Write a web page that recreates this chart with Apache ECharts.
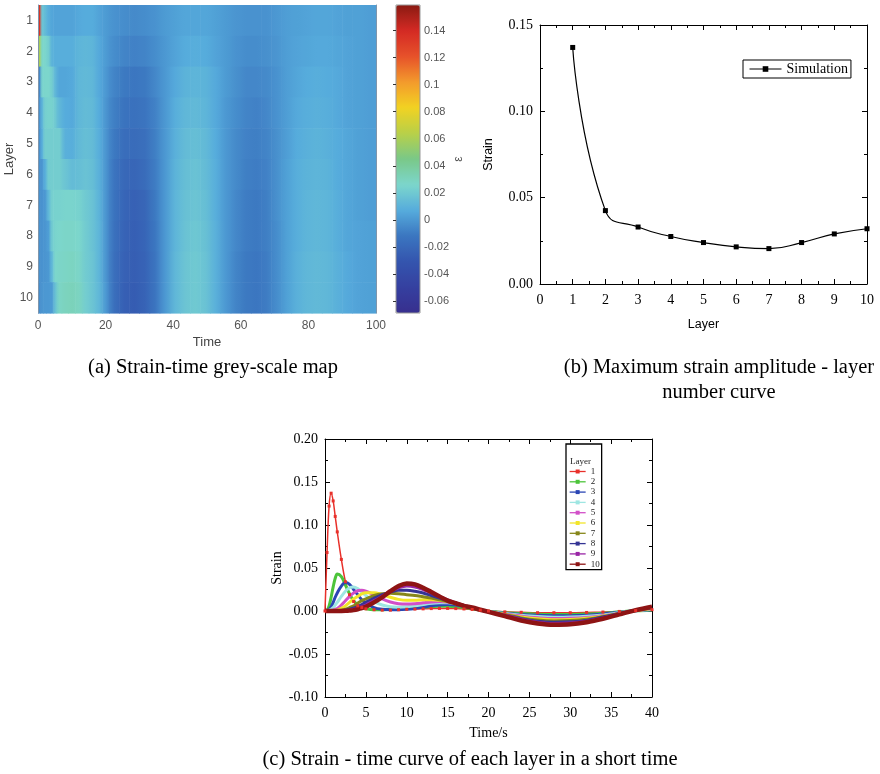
<!DOCTYPE html>
<html><head><meta charset="utf-8">
<script src="https://cdn.jsdelivr.net/npm/echarts@6/dist/echarts.min.js"></script>
<style>html,body{margin:0;padding:0;background:#fff}#c{width:880px;height:774px}</style>
</head><body><div id="c"></div>
<script>
// ---------- DATA ----------
const layerNames = ['1','2','3','4','5','6','7','8','9','10'];

// (a) heat map: column edges in time, and one value per column for each layer
const heatEdges = [0,0.7,1.5,2.5,3.5,4.5,5.5,7,9,11,13,15,17,19,21,24,27,30,33,36,39,42,45,48,51,54,57,60,63,66,69,72,75,78,81,84,87,90,93,96,100];
const heatL1 = [0.135,0.018,0.014,0.008,0.005, 0.004,0.004,0.004,0.004,0.006, 0.007,0.007,0.004,0.001,-0.002, -0.004,-0.005,-0.004,-0.002,0.001, 0.003,0.005,0.005,0.005,0.003, 0.001,-0.001,-0.002,-0.002,-0.002, 0.000,0.002,0.003,0.004,0.005, 0.005,0.004,0.003,0.003,0.002];
const heatL2 = [0.060,0.027,0.026,0.022,0.010, 0.008,0.008,0.008,0.008,0.011, 0.012,0.011,0.006,0.001,-0.004, -0.007,-0.008,-0.007,-0.004,0.000, 0.004,0.007,0.008,0.007,0.004, 0.001,-0.002,-0.004,-0.004,-0.003, -0.001,0.002,0.004,0.005,0.006, 0.006,0.005,0.004,0.003,0.002];
const heatL3 = [-0.006,0.024,0.026,0.026,0.022, 0.012,0.005,0.005,0.006,0.012, 0.013,0.012,0.006,0.000,-0.007, -0.011,-0.012,-0.011,-0.006,0.000, 0.006,0.010,0.011,0.010,0.006, 0.001,-0.003,-0.006,-0.006,-0.005, -0.002,0.002,0.005,0.007,0.008, 0.007,0.006,0.004,0.003,0.002];
const heatL4 = [-0.002,0.010,0.023,0.024,0.024, 0.020,0.012,0.007,0.006,0.012, 0.014,0.013,0.007,-0.001,-0.009, -0.014,-0.015,-0.013,-0.008,0.000, 0.008,0.012,0.013,0.011,0.006, 0.000,-0.004,-0.007,-0.008,-0.006, -0.002,0.002,0.006,0.008,0.009, 0.008,0.006,0.004,0.003,0.002];
const heatL5 = [-0.003,0.008,0.022,0.022,0.022, 0.022,0.022,0.009,0.008,0.013, 0.015,0.014,0.008,-0.001,-0.011, -0.017,-0.018,-0.016,-0.009,0.000, 0.009,0.014,0.015,0.013,0.007, 0.000,-0.005,-0.008,-0.009,-0.007, -0.003,0.002,0.007,0.009,0.010, 0.009,0.007,0.005,0.003,0.002];
const heatL6 = [-0.003,-0.001,0.008,0.021,0.022, 0.022,0.022,0.018,0.014,0.015, 0.017,0.015,0.009,-0.001,-0.013, -0.020,-0.021,-0.018,-0.010,0.000, 0.010,0.015,0.017,0.014,0.008, 0.000,-0.005,-0.009,-0.010,-0.008, -0.003,0.003,0.008,0.010,0.011, 0.010,0.007,0.005,0.003,0.002];
const heatL7 = [-0.003,-0.002,0.000,0.012,0.023, 0.024,0.024,0.025,0.025,0.024, 0.020,0.017,0.010,-0.001,-0.014, -0.022,-0.024,-0.021,-0.011,0.000, 0.011,0.016,0.018,0.015,0.008, 0.000,-0.006,-0.010,-0.011,-0.009, -0.003,0.003,0.008,0.011,0.012, 0.011,0.008,0.005,0.003,0.002];
const heatL8 = [-0.003,-0.002,-0.001,0.002,0.020, 0.025,0.026,0.027,0.027,0.026, 0.021,0.017,0.011,-0.001,-0.015, -0.023,-0.025,-0.022,-0.012,0.000, 0.011,0.017,0.019,0.016,0.009, 0.000,-0.006,-0.010,-0.011,-0.009, -0.004,0.003,0.008,0.011,0.012, 0.011,0.008,0.005,0.004,0.003];
const heatL9 = [-0.003,-0.002,-0.001,0.000,0.012, 0.026,0.027,0.028,0.029,0.027, 0.021,0.018,0.011,-0.001,-0.016, -0.024,-0.026,-0.023,-0.013,0.000, 0.012,0.018,0.020,0.017,0.009, 0.000,-0.007,-0.011,-0.012,-0.010, -0.004,0.003,0.009,0.012,0.013, 0.012,0.009,0.006,0.004,0.003];
const heatL10 = [-0.004,-0.001,0.000,0.000,0.001, 0.016,0.028,0.030,0.031,0.029, 0.022,0.018,0.012,0.000,-0.016, -0.025,-0.027,-0.023,-0.013,0.000, 0.012,0.018,0.020,0.017,0.009, 0.000,-0.007,-0.011,-0.012,-0.010, -0.004,0.003,0.009,0.012,0.013, 0.012,0.009,0.006,0.004,0.003];
const heatColorMin = -0.069, heatColorMax = 0.159;
const heatColors = ['#372f8e','#3540a0','#3455ae','#3b76c0','#56acdc','#7cd6cc','#7ac888','#b8d048','#f2d222','#f39a2c','#e6512a','#d42a24','#8a1a12'];

// (b) maximum strain amplitude per layer
const ampLayers = [1,2,3,4,5,6,7,8,9,10];
const ampValues = [0.137,0.0425,0.033,0.0275,0.024,0.0215,0.0205,0.024,0.029,0.032];

// (c) strain-time curves
const timeS = [0,0.25,0.5,0.75,1,1.25,1.5,2,2.5,3,3.5,4,4.5,5,6,7,8,9,10,11,12,13,14,15,16,17,18,19,20,22,24,26,28,30,32,34,36,38,40];
const strainL1 = [0,0.068,0.122,0.137,0.128,0.110,0.092,0.060,0.034,0.019,0.011,0.006,0.004,0.0025,0.0015,0.001,0.001,0.0015,0.002,0.0022,0.0025,0.0028,0.003,0.003,0.0028,0.0024,0.0018,0.001,0,-0.001,-0.0015,-0.002,-0.002,-0.002,-0.0017,-0.0012,-0.0005,0.0005,0.0015];
const strainL2 = [0,0.001,0.006,0.016,0.028,0.038,0.043,0.040,0.030,0.020,0.012,0.007,0.004,0.0025,0.0015,0.0015,0.002,0.0025,0.003,0.004,0.0045,0.005,0.0055,0.0055,0.005,0.004,0.0025,0.001,-0.0003,-0.002,-0.003,-0.0037,-0.004,-0.004,-0.0035,-0.0025,-0.001,0.0003,0.001];
const strainL3 = [0,0.0005,0.002,0.005,0.010,0.016,0.021,0.029,0.033,0.031,0.025,0.019,0.013,0.009,0.004,0.002,0.0015,0.0015,0.002,0.003,0.0045,0.006,0.007,0.0075,0.007,0.0055,0.0035,0.0012,-0.0005,-0.0025,-0.004,-0.005,-0.0055,-0.0055,-0.005,-0.0035,-0.0015,0.0003,0.0015];
const strainL4 = [0,0.0002,0.001,0.002,0.004,0.007,0.010,0.017,0.023,0.027,0.028,0.026,0.022,0.018,0.011,0.007,0.005,0.0045,0.005,0.006,0.0075,0.009,0.0095,0.0095,0.0085,0.0065,0.004,0.0015,-0.0006,-0.003,-0.005,-0.0065,-0.0072,-0.007,-0.0062,-0.0045,-0.002,0.0003,0.002];
const strainL5 = [0,0,0.0003,0.0006,0.001,0.002,0.003,0.007,0.012,0.017,0.021,0.0235,0.024,0.023,0.019,0.014,0.0105,0.0085,0.008,0.0085,0.0095,0.0105,0.011,0.0105,0.009,0.0065,0.004,0.0015,-0.0008,-0.0035,-0.006,-0.0078,-0.0088,-0.0085,-0.0075,-0.0055,-0.0025,0.0004,0.0025];
const strainL6 = [0,0,0.0001,0.0003,0.0005,0.0008,0.001,0.003,0.006,0.010,0.014,0.017,0.020,0.0212,0.0213,0.019,0.016,0.0135,0.0125,0.0125,0.013,0.013,0.0125,0.011,0.009,0.0065,0.004,0.0015,-0.0008,-0.004,-0.007,-0.009,-0.0102,-0.0098,-0.0085,-0.006,-0.0028,0.0005,0.003];
const strainL7 = [0,0,0,0.0001,0.0002,0.0003,0.0005,0.001,0.002,0.004,0.006,0.009,0.012,0.014,0.018,0.020,0.0205,0.020,0.019,0.018,0.0165,0.015,0.013,0.011,0.0085,0.006,0.0035,0.0012,-0.001,-0.004,-0.008,-0.0105,-0.0115,-0.011,-0.0095,-0.0065,-0.003,0.0005,0.0035];
const strainL8 = [0,0,0,0,0.0001,0.0002,0.0003,0.0005,0.001,0.002,0.0035,0.005,0.0075,0.010,0.015,0.019,0.022,0.024,0.024,0.023,0.021,0.018,0.015,0.012,0.009,0.006,0.0035,0.0012,-0.001,-0.005,-0.009,-0.012,-0.013,-0.0125,-0.011,-0.007,-0.003,0.0008,0.004];
const strainL9 = [0,0,0,0,0,0,0.0001,0.0002,0.0004,0.001,0.002,0.003,0.005,0.007,0.012,0.017,0.023,0.027,0.029,0.028,0.025,0.021,0.017,0.013,0.0095,0.0065,0.004,0.0015,-0.001,-0.005,-0.0095,-0.013,-0.0145,-0.014,-0.012,-0.008,-0.0035,0.0008,0.0045];
const strainL10 = [0,0,0,0,0,0,0,0.0001,0.0003,0.0006,0.001,0.002,0.0035,0.005,0.010,0.016,0.023,0.029,0.032,0.031,0.027,0.022,0.017,0.012,0.009,0.006,0.004,0.0015,-0.001,-0.006,-0.011,-0.0145,-0.016,-0.0155,-0.013,-0.009,-0.004,0.001,0.005];
const layerColors = ['#e8302a','#4cc43a','#2b46b4','#9ee6e2','#d24fc8','#f2e52a','#86861a','#343494','#9a26a6','#8e1414'];

// ---------- BUILD ----------
const SERIF = '"Times New Roman","Liberation Serif",serif';
const SANS = 'Arial,"Liberation Sans",sans-serif';
const CAP = '20.5px ' + SERIF;
const heatRows = [heatL1,heatL2,heatL3,heatL4,heatL5,heatL6,heatL7,heatL8,heatL9,heatL10];
const strainRows = [strainL1,strainL2,strainL3,strainL4,strainL5,strainL6,strainL7,strainL8,strainL9,strainL10];
const nCols = heatEdges.length - 1;
const heatData = [];
heatRows.forEach((row, li) => row.forEach((v, ci) => heatData.push([heatEdges[ci], li, v, heatEdges[ci + 1], ci])));

function renderHeat(params, api) {
  const t0 = api.value(0), li = api.value(1), t1 = api.value(3), ci = api.value(4);
  const a = api.coord([t0, li]), b = api.coord([t1, li]);
  const h = api.size([0, 1])[1];
  const idx = params.dataIndexInside;
  const c = api.visual('color');
  const left = ci > 0 ? echarts.color.lerp(0.5, [api.visual('color', idx - 1), c]) : c;
  const right = ci < nCols - 1 ? echarts.color.lerp(0.5, [c, api.visual('color', idx + 1)]) : c;
  return {
    type: 'rect',
    shape: { x: a[0], y: a[1] - h / 2, width: b[0] - a[0] + 0.6, height: h + 0.6 },
    style: { fill: { type: 'linear', x: 0, y: 0, x2: 1, y2: 0, colorStops: [
      { offset: 0, color: left }, { offset: 0.5, color: c }, { offset: 1, color: right } ] } }
  };
}

const blackTick = { inside: true, length: 5, lineStyle: { color: '#000', width: 1 } };
const blackMinor = { show: true, splitNumber: 2, length: 3, lineStyle: { color: '#000', width: 1 } };
const blackLine = { onZero: false, lineStyle: { color: '#000', width: 1 } };
const serifLabel = { color: '#000', fontFamily: SERIF, fontSize: 14 };
const heatTick = { inside: true, length: 3, lineStyle: { color: '#2a3a4a', width: 1 } };
const heatLine = { onZero: false, lineStyle: { color: '#7f95ab', width: 1 } };

const option = {
  animation: false,
  backgroundColor: '#fff',
  grid: [
    { left: 38, top: 5, width: 338, height: 308, outerBoundsMode: 'none' },
    { left: 396, top: 5, width: 24, height: 308, outerBoundsMode: 'none', show: true, borderColor: '#999', borderWidth: 1, backgroundColor: 'transparent', z: 10 },
    { left: 540, top: 25, width: 327, height: 259, outerBoundsMode: 'none' },
    { left: 325, top: 439, width: 327, height: 258, outerBoundsMode: 'none' }
  ],
  xAxis: [
    { gridIndex: 0, type: 'value', min: 0, max: 100, interval: 20, z: 10,
      axisLine: heatLine, axisTick: heatTick, splitLine: { show: false },
      axisLabel: { color: '#555', fontFamily: SANS, fontSize: 12, margin: 7 },
      name: 'Time', nameLocation: 'middle', nameGap: 23,
      nameTextStyle: { color: '#444', fontFamily: SANS, fontSize: 13 } },
    { gridIndex: 0, type: 'value', position: 'top', min: 0, max: 100, interval: 20, z: 10,
      axisLine: heatLine, axisTick: heatTick, splitLine: { show: false }, axisLabel: { show: false } },
    { gridIndex: 1, type: 'value', min: 0, max: 1, show: false },
    { gridIndex: 2, type: 'value', min: 0, max: 10, interval: 1,
      axisLine: blackLine, axisTick: blackTick, minorTick: blackMinor, splitLine: { show: false },
      axisLabel: Object.assign({ margin: 9 }, serifLabel),
      name: 'Layer', nameLocation: 'middle', nameGap: 34,
      nameTextStyle: { color: '#000', fontFamily: SANS, fontSize: 12.5 } },
    { gridIndex: 2, type: 'value', position: 'top', min: 0, max: 10, interval: 1,
      axisLine: blackLine, axisTick: blackTick, minorTick: blackMinor, splitLine: { show: false }, axisLabel: { show: false } },
    { gridIndex: 3, type: 'value', min: 0, max: 40, interval: 5,
      axisLine: blackLine, axisTick: blackTick, minorTick: blackMinor, splitLine: { show: false },
      axisLabel: Object.assign({ margin: 9 }, serifLabel),
      name: 'Time/s', nameLocation: 'middle', nameGap: 29,
      nameTextStyle: { color: '#000', fontFamily: SERIF, fontSize: 14 } },
    { gridIndex: 3, type: 'value', position: 'top', min: 0, max: 40, interval: 5,
      axisLine: blackLine, axisTick: blackTick, minorTick: blackMinor, splitLine: { show: false }, axisLabel: { show: false } }
  ],
  yAxis: [
    { gridIndex: 0, type: 'category', data: layerNames, inverse: true, z: 10,
      axisLine: heatLine, axisTick: Object.assign({ alignWithLabel: true }, heatTick),
      axisLabel: { color: '#555', fontFamily: SANS, fontSize: 12, margin: 5 },
      name: 'Layer', nameLocation: 'middle', nameGap: 21,
      nameTextStyle: { color: '#444', fontFamily: SANS, fontSize: 13 } },
    { gridIndex: 0, type: 'category', data: layerNames, inverse: true, position: 'right', z: 10,
      axisLine: heatLine, axisTick: Object.assign({ alignWithLabel: true }, heatTick), axisLabel: { show: false } },
    { gridIndex: 1, type: 'value', position: 'right', min: heatColorMin, max: heatColorMax, splitNumber: 11, z: 10,
      axisLine: { show: false }, axisTick: { inside: true, length: 3, lineStyle: { color: '#333' } },
      splitLine: { show: false },
      axisLabel: { showMinLabel: false, showMaxLabel: false, color: '#555', fontFamily: SANS, fontSize: 11, margin: 4 },
      name: 'ε', nameLocation: 'middle', nameGap: 33, nameRotate: 90,
      nameTextStyle: { color: '#555', fontFamily: SANS, fontSize: 12 } },
    { gridIndex: 2, type: 'value', min: 0, max: 0.15, interval: 0.05,
      axisLine: blackLine, axisTick: blackTick, minorTick: blackMinor, splitLine: { show: false },
      axisLabel: Object.assign({ margin: 7, formatter: v => v.toFixed(2) }, serifLabel),
      name: 'Strain', nameLocation: 'middle', nameGap: 45,
      nameTextStyle: { color: '#000', fontFamily: SANS, fontSize: 12.5 } },
    { gridIndex: 2, type: 'value', position: 'right', min: 0, max: 0.15, interval: 0.05,
      axisLine: blackLine, axisTick: blackTick, minorTick: blackMinor, splitLine: { show: false }, axisLabel: { show: false } },
    { gridIndex: 3, type: 'value', min: -0.1, max: 0.2, interval: 0.05,
      axisLine: blackLine, axisTick: blackTick, minorTick: blackMinor, splitLine: { show: false },
      axisLabel: Object.assign({ margin: 7, formatter: v => v.toFixed(2) }, serifLabel),
      name: 'Strain', nameLocation: 'middle', nameGap: 41,
      nameTextStyle: { color: '#000', fontFamily: SERIF, fontSize: 14 } },
    { gridIndex: 3, type: 'value', position: 'right', min: -0.1, max: 0.2, interval: 0.05,
      axisLine: blackLine, axisTick: blackTick, minorTick: blackMinor, splitLine: { show: false }, axisLabel: { show: false } }
  ],
  visualMap: [{
    type: 'continuous', seriesIndex: 0, dimension: 2, min: heatColorMin, max: heatColorMax,
    inRange: { color: heatColors }, left: 396, top: 5, itemWidth: 24, itemHeight: 308,
    calculable: false, padding: 0, showLabel: false, hoverLink: false, z: 4
  }],
  legend: [
    { data: ['Simulation'], left: 743, top: 60, orient: 'horizontal', padding: [2, 3, 2, 6],
      itemWidth: 32, itemHeight: 7, borderColor: '#000', borderWidth: 1,
      textStyle: { fontFamily: SERIF, fontSize: 14, color: '#000' }, lineStyle: { width: 1 } },
    { data: layerNames, left: 566, top: 444, orient: 'vertical', padding: [23, 2, 1, 3],
      itemWidth: 16, itemHeight: 5, itemGap: 1.3, borderColor: '#000', borderWidth: 1.3,
      textStyle: { fontFamily: SERIF, fontSize: 9, color: '#222' }, lineStyle: { width: 1.3 } }
  ],
  graphic: [
    { type: 'text', x: 213, y: 368, style: { text: '(a) Strain-time grey-scale map', font: CAP, fill: '#000', align: 'center', verticalAlign: 'middle' } },
    { type: 'text', x: 719, y: 368, style: { text: '(b) Maximum strain amplitude - layer', font: CAP, fill: '#000', align: 'center', verticalAlign: 'middle' } },
    { type: 'text', x: 719, y: 393, style: { text: 'number curve', font: CAP, fill: '#000', align: 'center', verticalAlign: 'middle' } },
    { type: 'text', x: 470, y: 760, style: { text: '(c) Strain - time curve of each layer in a short time', font: CAP, fill: '#000', align: 'center', verticalAlign: 'middle' } },
    { type: 'text', x: 570, y: 462, style: { text: 'Layer', font: '9px ' + SERIF, fill: '#222', align: 'left', verticalAlign: 'middle' } }
  ],
  series: [
    { type: 'custom', xAxisIndex: 0, yAxisIndex: 0, data: heatData, renderItem: renderHeat,
      encode: { x: [0, 3], y: 1 }, silent: true, z: 2 },
    { type: 'line', name: 'Simulation', xAxisIndex: 3, yAxisIndex: 3,
      data: ampLayers.map((l, i) => [l, ampValues[i]]), smooth: true, symbol: 'rect', symbolSize: 5,
      lineStyle: { color: '#000', width: 1.2 }, itemStyle: { color: '#000' } }
  ].concat(strainRows.map((arr, i) => ({
    type: 'line', name: layerNames[i], xAxisIndex: 5, yAxisIndex: 5,
    data: timeS.map((t, j) => [t, arr[j]]), smooth: 0.35,
    showSymbol: i === 0, symbol: 'rect', symbolSize: 3,
    lineStyle: { color: layerColors[i], width: i === 0 ? 1.5 : (i === 9 ? 4.5 : 3) },
    itemStyle: { color: layerColors[i] }
  })))
};

const chart = echarts.init(document.getElementById('c'), null, { renderer: 'canvas' });
chart.setOption(option);
</script>
</body></html>
